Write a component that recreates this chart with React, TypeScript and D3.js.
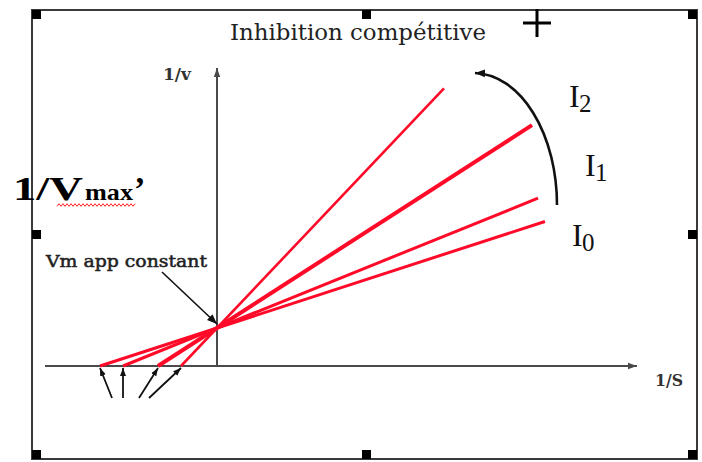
import React from "react";
import * as d3 from "d3";

// Lineweaver–Burk plot, competitive inhibition: every line shares 1/Vmax,
// the x-intercept (-1/Km app) moves towards 0 as the inhibitor rises.
const seriesNames = ["I0", "I0b", "I1", "I2"];
const xIntercepts = [-11.7, -9.4, -5.9, -3.6];
const lineEndX = [32.8, 32.1, 31.5, 22.7];
const invVmax = 3.8;

const xAxisDomain = [-17.2, 42];
const yAxisDomain = [0, 29.8];

const axisLabels = ["1/S", "1/v"];
const inhibitorLabels = [
  { main: "I", sub: "2" },
  { main: "I", sub: "1" },
  { main: "I", sub: "0" },
];

// per-line stroke widths
const lineWidths = [3, 3, 4, 2.6];
// tail offsets (px) of the small arrows that point at each x-intercept
const tailOffsets = [12, 0, -19, -32];

const W = 702;
const H = 462;
const RED = "#ff0a28";
const AXIS = "#4a4a4a";

export default function App() {
  const x = d3.scaleLinear().domain(xAxisDomain).range([45, 637]);
  const y = d3.scaleLinear().domain(yAxisDomain).range([366, 68]);
  const line = d3.line<[number, number]>().x((d) => x(d[0])).y((d) => y(d[1]));

  const lines = seriesNames.map((name, i) => {
    const xi = xIntercepts[i];
    const xe = lineEndX[i];
    const pts: [number, number][] = [
      [xi, 0],
      [xe, invVmax * (1 - xe / xi)],
    ];
    return { name, d: line(pts) as string, w: lineWidths[i] };
  });

  // red spell-check squiggle under "max"
  const squiggle = d3
    .range(57, 136, 2)
    .map((px, k) => `${k === 0 ? "M" : "L"}${px},${205 + (k % 2 === 0 ? 1.3 : -1.3)}`)
    .join("");

  const handles: [number, number][] = [
    [32, 10], [362, 10], [688, 10],
    [32, 230], [688, 230],
    [32, 450], [362, 450], [688, 450],
  ];

  const serif = "'DejaVu Serif', serif";
  const times = "'Liberation Serif', 'Times New Roman', serif";

  return (
    <svg
      width={W}
      height={H}
      style={{ position: "absolute", left: 0, top: 0, background: "#fff" }}
    >
      <defs>
        <marker id="axisHead" markerUnits="userSpaceOnUse" markerWidth="10" markerHeight="8"
          refX="9" refY="4" orient="auto">
          <path d="M0,0.8 L9,4 L0,7.2 Z" fill={AXIS} />
        </marker>
        <marker id="blackHead" markerUnits="userSpaceOnUse" markerWidth="11" markerHeight="9"
          refX="10" refY="4.5" orient="auto">
          <path d="M0,0.5 L10,4.5 L0,8.5 Z" fill="#111" />
        </marker>
        <marker id="smallHead" markerUnits="userSpaceOnUse" markerWidth="9" markerHeight="7"
          refX="8" refY="3.5" orient="auto">
          <path d="M0,0.5 L8,3.5 L0,6.5 Z" fill="#111" />
        </marker>
      </defs>

      {/* frame with selection handles */}
      <rect x={32} y={10} width={665} height={449} fill="none" stroke="#3a3a3a" strokeWidth={2} />
      {handles.map(([hx, hy], i) => (
        <rect key={i} x={hx} y={hy} width={9} height={9} fill="#000" />
      ))}

      {/* title */}
      <text x={230} y={40} fontFamily={serif} fontSize={22} fill="#222"
        textLength={256} lengthAdjust="spacingAndGlyphs">
        Inhibition compétitive
      </text>
      {/* cross cursor */}
      <path d="M537,9 V37 M523,23 H551" stroke="#000" strokeWidth={3} />

      {/* axes */}
      <line x1={x(xAxisDomain[0])} y1={y(0)} x2={x(xAxisDomain[1])} y2={y(0)}
        stroke={AXIS} strokeWidth={2} markerEnd="url(#axisHead)" />
      <line x1={x(0)} y1={y(0)} x2={x(0)} y2={y(yAxisDomain[1])}
        stroke={AXIS} strokeWidth={2} markerEnd="url(#axisHead)" />
      <text x={655} y={386} fontFamily={serif} fontSize={16} fontWeight="bold" fill="#333"
        textLength={28} lengthAdjust="spacingAndGlyphs">
        {axisLabels[0]}
      </text>
      <text x={163} y={80} fontFamily={serif} fontSize={16} fontWeight="bold" fill="#333"
        textLength={28} lengthAdjust="spacingAndGlyphs">
        {axisLabels[1]}
      </text>

      {/* Lineweaver–Burk lines */}
      {lines.map((l) => (
        <path key={l.name} d={l.d} stroke={RED} strokeWidth={l.w} fill="none" />
      ))}

      {/* arrows pointing at the x-intercepts */}
      {xIntercepts.map((xi, i) => (
        <line key={i} x1={x(xi) + tailOffsets[i]} y1={398} x2={x(xi)} y2={368}
          stroke="#111" strokeWidth={1.8} markerEnd="url(#smallHead)" />
      ))}

      {/* "Vm app constant" annotation */}
      <text x={46} y={267} fontFamily={serif} fontSize={16} fill="#222"
        stroke="#222" strokeWidth={0.5}
        textLength={161} lengthAdjust="spacingAndGlyphs">
        Vm app constant
      </text>
      <line x1={162} y1={272} x2={x(0)} y2={y(invVmax) - 4}
        stroke="#111" strokeWidth={1.6} markerEnd="url(#blackHead)" />

      {/* 1/Vmax' */}
      <text x={13} y={200} fontFamily={times} fontSize={34} fontWeight="bold" fill="#000"
        textLength={70} lengthAdjust="spacingAndGlyphs">
        1/V
      </text>
      <text x={85} y={200} fontFamily={times} fontSize={24} fontWeight="bold" fill="#000"
        textLength={48} lengthAdjust="spacingAndGlyphs">
        max
      </text>
      <text x={134} y={200} fontFamily={times} fontSize={34} fontWeight="bold" fill="#000">
        ’
      </text>
      <path d={squiggle} stroke="#ff2020" strokeWidth={1} fill="none" />

      {/* curved arrow showing increasing inhibitor */}
      <path d="M557,205 A84,132 0 0 0 475,73" stroke="#111" strokeWidth={2.6} fill="none"
        markerEnd="url(#blackHead)" />

      {/* inhibitor labels */}
      {inhibitorLabels.map((lab, i) => {
        const pos = [
          [569, 107],
          [585, 176],
          [572, 246],
        ][i];
        return (
          <g key={i} fontFamily={times} fill="#111">
            <text x={pos[0]} y={pos[1]} fontSize={32}>{lab.main}</text>
            <text x={pos[0] + 10} y={pos[1] + 5} fontSize={25}>{lab.sub}</text>
          </g>
        );
      })}
    </svg>
  );
}
